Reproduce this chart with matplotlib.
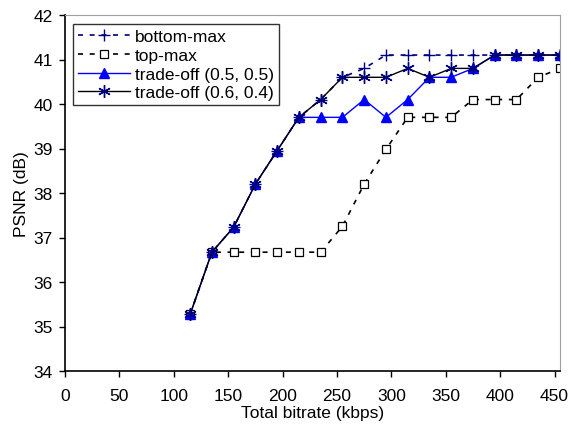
import numpy as np
import matplotlib.pyplot as plt

plt.rcParams['font.family'] = ['Liberation Sans', 'DejaVu Sans']

# Datos
bitrate = [115, 135, 155, 175, 195, 215, 235, 255, 275, 295, 315, 335, 355, 375, 395, 415, 435, 455]
bottom_max = [35.27, 36.67, 37.23, 38.2, 38.95, 39.7, 40.1, 40.6, 40.8, 41.1, 41.1, 41.1, 41.1, 41.1, 41.1, 41.1, 41.1, 41.1]
top_max = [35.27, 36.67, 36.67, 36.67, 36.67, 36.67, 36.67, 37.25, 38.2, 38.98, 39.7, 39.7, 39.7, 40.1, 40.1, 40.1, 40.6, 40.8]
trade_05 = [35.27, 36.67, 37.23, 38.2, 38.95, 39.7, 39.7, 39.7, 40.1, 39.7, 40.1, 40.6, 40.6, 40.8, 41.1, 41.1, 41.1, 41.1]
trade_06 = [35.27, 36.67, 37.23, 38.2, 38.95, 39.7, 40.1, 40.6, 40.6, 40.6, 40.8, 40.6, 40.8, 40.8, 41.1, 41.1, 41.1, 41.1]

fig = plt.figure(figsize=(5.71, 4.27), dpi=100, facecolor='white')
ax = fig.add_axes([65 / 571, 1 - 372 / 427, (560 - 65) / 571, (372 - 16) / 427])

ax.plot(bitrate, bottom_max, color='#000080', linestyle=(0, (3, 4)), linewidth=1.2,
        marker='+', markersize=8, markeredgewidth=1, label='bottom-max')
ax.plot(bitrate, top_max, color='black', linestyle=(0, (3, 4)), linewidth=1.2,
        marker='s', markersize=6, markerfacecolor='white', markeredgecolor='black',
        markeredgewidth=0.9, label='top-max')
ax.plot(bitrate, trade_05, color='#0000FF', linestyle='-', linewidth=1,
        marker='^', markersize=7, markerfacecolor='#0000FF', markeredgecolor='#0000FF',
        label='trade-off (0.5, 0.5)')
ax.plot(bitrate, trade_06, color='black', linestyle='-', linewidth=1,
        marker=(6, 2, 0), markersize=9, markeredgecolor='#000080', markeredgewidth=1,
        label='trade-off (0.6, 0.4)')

ax.set_xlim(0, 455)
ax.set_ylim(34, 42)
ax.set_xticks(np.arange(0, 451, 50))
ax.set_yticks(np.arange(34, 43, 1))
ax.tick_params(direction='out', length=4, width=1, labelsize=12.5, color='black')
ax.tick_params(axis='x', pad=8)
ax.tick_params(axis='y', pad=5)

for lado in ['top', 'right']:
    ax.spines[lado].set_color('#A0A0A0')
for lado in ['left', 'bottom']:
    ax.spines[lado].set_color('black')
    ax.spines[lado].set_linewidth(1.2)

ax.set_xlabel('Total bitrate (kbps)', fontsize=12.5, labelpad=2)
ax.set_ylabel('PSNR (dB)', fontsize=12.5, labelpad=3)

leg = ax.legend(loc='upper left', fontsize=12.5, frameon=True, fancybox=False,
                edgecolor='black', bbox_to_anchor=(8 / 495, 1 - 9 / 356),
                borderaxespad=0, handlelength=3.0, handletextpad=0.25,
                labelspacing=0.2, borderpad=0.3)
leg.get_frame().set_linewidth(1)

plt.savefig('out.png', dpi=100)
